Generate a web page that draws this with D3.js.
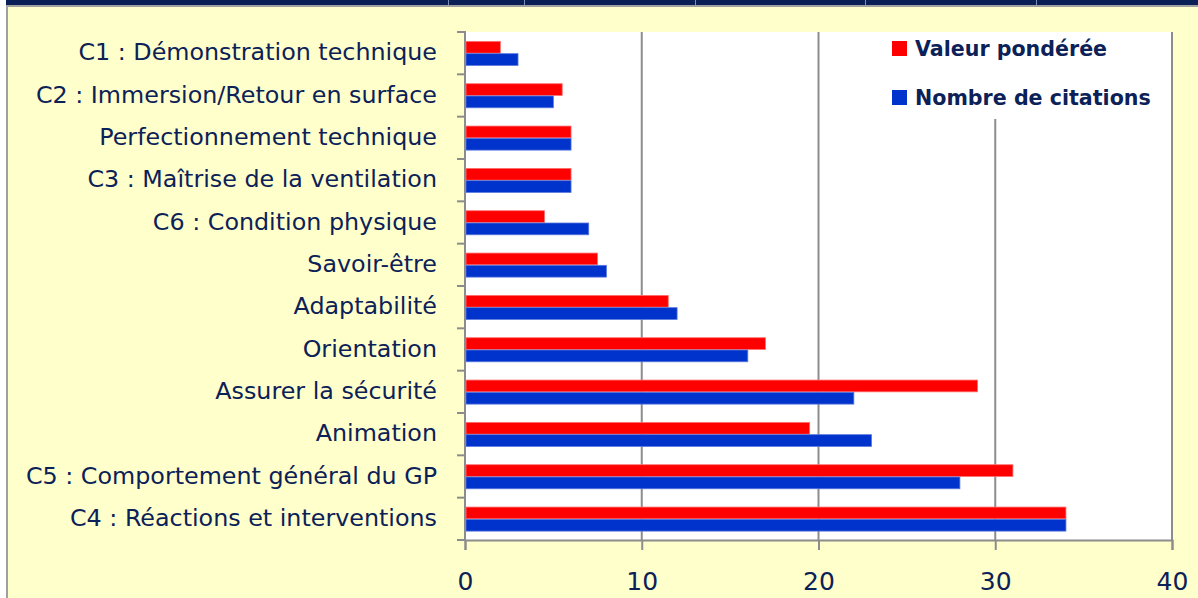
<!DOCTYPE html>
<html>
<head>
<meta charset="utf-8">
<style>
  body { margin: 0; background: #ffffff; }
  svg { display: block; }
  .lbl { font-family: "DejaVu Sans", sans-serif; fill: #0c2157; }
</style>
</head>
<body>
<div id="container"></div>
<script src="https://cdn.jsdelivr.net/npm/d3@7"></script>
<script>
// the data, top to bottom as in the picture
var categories = [
  "C1 : Démonstration technique",
  "C2 : Immersion/Retour en surface",
  "Perfectionnement technique",
  "C3 : Maîtrise de la ventilation",
  "C6 : Condition physique",
  "Savoir-être",
  "Adaptabilité",
  "Orientation",
  "Assurer la sécurité",
  "Animation",
  "C5 : Comportement général du GP",
  "C4 : Réactions et interventions"
];
var valeurPonderee  = [2, 5.5, 6, 6, 4.5, 7.5, 11.5, 17, 29, 19.5, 31, 34];
var nombreCitations = [3, 5, 6, 6, 7, 8, 12, 16, 22, 23, 28, 34];
var seriesNames = ["Valeur pondérée", "Nombre de citations"];
var xTicks = [0, 10, 20, 30, 40];

// setup
var W = 1198, H = 598;
var plot = { left: 465, right: 1172, top: 32, bottom: 540 };
var red = "#ff0000", blue = "#0033cc";

var svg = d3.select("#container").append("svg")
  .attr("width", W).attr("height", H);

// page background, the navy strip on top and the thin grey frame line on the left
svg.append("rect").attr("x", 6).attr("y", 0).attr("width", W - 6).attr("height", H).attr("fill", "#ffffcc");
svg.append("rect").attr("x", 6).attr("y", 0).attr("width", W - 6).attr("height", 5).attr("fill", "#0a1f55");
svg.append("rect").attr("x", 6).attr("y", 5).attr("width", W - 6).attr("height", 2).attr("fill", "#a0a0a0");
svg.append("rect").attr("x", 6).attr("y", 7).attr("width", 2).attr("height", H - 7).attr("fill", "#a0a0a0");
// cell borders of the table above, peeking into the strip
[448, 524, 695, 865, 1036].forEach(function(x) {
  svg.append("rect").attr("x", x).attr("y", 0).attr("width", 1).attr("height", 5).attr("fill", "#7d8fb8");
});

// scales
var x = d3.scaleLinear().domain([0, 40]).range([plot.left, plot.right]);
var y = d3.scaleBand().domain(categories).range([plot.top, plot.bottom])
  .paddingInner(0.42).paddingOuter(0.21);
var ySub = d3.scaleBand().domain(seriesNames).range([0, y.bandwidth()]);

// plot area
svg.append("rect")
  .attr("x", plot.left).attr("y", plot.top)
  .attr("width", plot.right - plot.left).attr("height", plot.bottom - plot.top)
  .attr("fill", "#ffffff");

// vertical gridlines
svg.selectAll("line.grid")
  .data(xTicks.slice(1))
  .enter().append("line")
  .attr("class", "grid")
  .attr("x1", function(d) { return x(d); }).attr("x2", function(d) { return x(d); })
  .attr("y1", plot.top).attr("y2", plot.bottom)
  .attr("stroke", "#8c8c8c").attr("stroke-width", 2);

// legend box hides the grid behind it
svg.append("rect")
  .attr("x", 878).attr("y", plot.top).attr("width", 288).attr("height", 87)
  .attr("fill", "#ffffff");

// bars
var rows = categories.map(function(c, i) {
  return { cat: c, vals: [valeurPonderee[i], nombreCitations[i]] };
});
var groups = svg.selectAll("g.row")
  .data(rows)
  .enter().append("g")
  .attr("class", "row")
  .attr("transform", function(d) { return "translate(0," + y(d.cat) + ")"; });

groups.selectAll("rect")
  .data(function(d) { return d.vals.map(function(v, k) { return { s: seriesNames[k], v: v }; }); })
  .enter().append("rect")
  .attr("x", x(0) + 1)
  .attr("y", function(d) { return ySub(d.s) + 0.5; })
  .attr("width", function(d) { return x(d.v) - x(0) - 1; })
  .attr("height", ySub.bandwidth() - 0.5)
  .attr("fill", function(d) { return d.s === seriesNames[0] ? red : blue; })
  .attr("stroke", function(d) { return d.s === seriesNames[0] ? "#ff7070" : "#5a78dc"; })
  .attr("stroke-width", 0.8);

// axes
var yTickPos = d3.range(categories.length + 1).map(function(i) {
  return plot.top + i * (plot.bottom - plot.top) / categories.length;
});
svg.selectAll("line.ytick")
  .data(yTickPos)
  .enter().append("line")
  .attr("x1", plot.left - 8).attr("x2", plot.left)
  .attr("y1", function(d) { return d; }).attr("y2", function(d) { return d; })
  .attr("stroke", "#8c8c8c").attr("stroke-width", 2);

svg.append("line")
  .attr("x1", plot.left).attr("x2", plot.left)
  .attr("y1", plot.top - 1).attr("y2", plot.bottom + 1)
  .attr("stroke", "#8c8c8c").attr("stroke-width", 2);

var xAxis = d3.axisBottom(x).tickValues(xTicks).tickSize(10).tickPadding(22);
var gx = svg.append("g")
  .attr("transform", "translate(0," + plot.bottom + ")")
  .call(xAxis);
gx.select(".domain").attr("stroke", "#8c8c8c").attr("stroke-width", 2);
gx.selectAll(".tick line").attr("stroke", "#8c8c8c").attr("stroke-width", 2);
gx.selectAll(".tick text")
  .attr("class", "lbl")
  .style("font-size", "25px")
  .attr("fill", "#0c2157");

// category labels
svg.selectAll("text.cat")
  .data(categories)
  .enter().append("text")
  .attr("class", "lbl cat")
  .attr("x", 437)
  .attr("y", function(d) { return y(d) + y.bandwidth() / 2 - 1; })
  .attr("dy", "0.35em")
  .attr("text-anchor", "end")
  .style("font-size", "23.8px")
  .text(function(d) { return d; });

// legend
var legend = svg.selectAll("g.leg")
  .data(seriesNames)
  .enter().append("g")
  .attr("class", "leg")
  .attr("transform", function(d, i) { return "translate(892," + (41 + i * 49) + ")"; });
legend.append("rect")
  .attr("width", 15).attr("height", 15)
  .attr("fill", function(d, i) { return i === 0 ? red : blue; });
legend.append("text")
  .attr("class", "lbl")
  .attr("x", 23).attr("y", 8).attr("dy", "0.36em")
  .style("font-size", "20.6px").style("font-weight", "bold")
  .text(function(d) { return d; });
</script>
</body>
</html>
